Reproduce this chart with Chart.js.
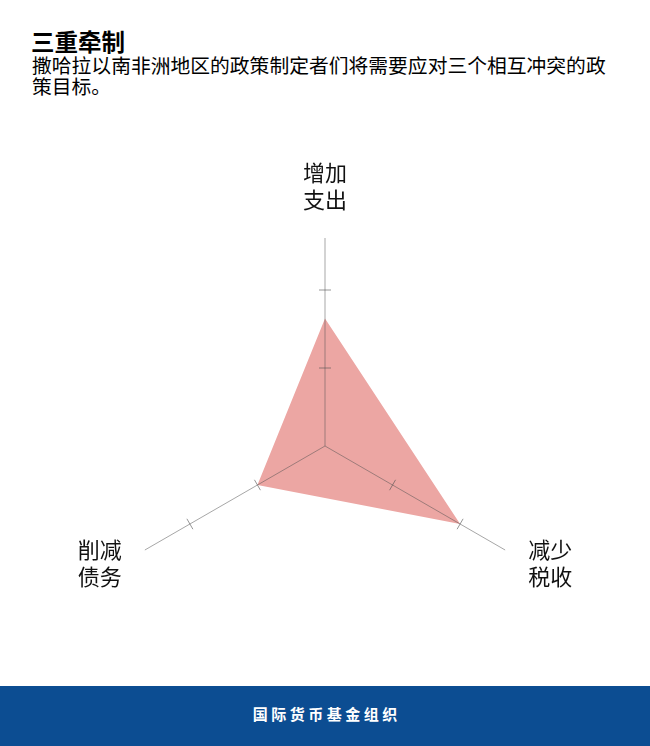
<!DOCTYPE html>
<html>
<head>
<meta charset="utf-8">
<script src="https://cdn.jsdelivr.net/npm/chart.js@4"></script>
<style>
  html, body { margin: 0; padding: 0; background: #ffffff; }
  body { width: 650px; height: 746px; position: relative; overflow: hidden;
         font-family: "Noto Sans CJK SC", "Noto Sans", sans-serif; }
  #title { position: absolute; left: 31px; top: 30px; font-size: 23.5px; line-height: 23px;
           font-weight: bold; color: #000; white-space: nowrap; }
  #subtitle { position: absolute; left: 32px; top: 54px; width: 585px; font-size: 19.8px;
              line-height: 21px; color: #000; }
  #chart { position: absolute; left: 0; top: 0; }
  #footer { position: absolute; left: 0; top: 686px; width: 650px; height: 60px; background: #0c4d92;
            color: #fff; font-weight: bold; font-size: 15px; letter-spacing: 3.5px;
            text-align: center; line-height: 56px; padding-left: 3.5px; box-sizing: border-box; }
</style>
</head>
<body>
<div id="title">三重牵制</div>
<div id="subtitle">撒哈拉以南非洲地区的政策制定者们将需要应对三个相互冲突的政策目标。</div>
<canvas id="chart" width="650" height="746"></canvas>
<div id="footer">国际货币基金组织</div>
<script>
// ---- data ----
const categories = [["增加", "支出"], ["减少", "税收"], ["削减", "债务"]];
const values = [4.9, 6, 3];
const tickValues = [3, 6];
const axisMax = 8;
const labelValue = 10;

const tickMarkPlugin = {
  id: 'tickMarks',
  afterDraw(chart) {
    const scale = chart.scales.r;
    const ctx = chart.ctx;
    ctx.save();
    ctx.strokeStyle = 'rgba(80,80,80,0.6)';
    ctx.lineWidth = 1;
    for (let i = 0; i < categories.length; i++) {
      const a = scale.getIndexAngle(i) - Math.PI / 2;
      const px = -Math.sin(a), py = Math.cos(a);
      for (const v of tickValues) {
        const p = scale.getPointPositionForValue(i, v);
        ctx.beginPath();
        ctx.moveTo(p.x - px * 6, p.y - py * 6);
        ctx.lineTo(p.x + px * 6, p.y + py * 6);
        ctx.stroke();
      }
    }
    // axis labels
    ctx.fillStyle = '#111';
    ctx.font = '22px "Noto Sans CJK SC", sans-serif';
    ctx.textAlign = 'center';
    ctx.textBaseline = 'middle';
    const lh = 27;
    for (let i = 0; i < categories.length; i++) {
      const p = scale.getPointPositionForValue(i, labelValue);
      let cy = p.y;
      if (p.y > scale.yCenter + 1) cy -= 13;
      const lines = categories[i];
      const start = cy - (lines.length - 1) * lh / 2;
      lines.forEach((t, k) => ctx.fillText(t, p.x, start + k * lh));
    }
    ctx.restore();
  }
};

new Chart(document.getElementById('chart'), {
  type: 'radar',
  data: {
    labels: categories.map(c => c.join('')),
    datasets: [{
      data: values,
      backgroundColor: 'rgb(236,166,163)',
      borderWidth: 0,
      pointRadius: 0,
      pointHoverRadius: 0,
      fill: true
    }]
  },
  options: {
    responsive: false,
    animation: false,
    events: [],
    layout: { padding: { left: 117, right: 117, top: 238, bottom: 92 } },
    plugins: { legend: { display: false }, tooltip: { enabled: false } },
    scales: {
      r: {
        min: 0,
        max: axisMax,
        ticks: { display: false, stepSize: 3 },
        grid: { display: false, z: 1 },
        angleLines: { display: true, color: 'rgba(80,80,80,0.5)', lineWidth: 1 },
        pointLabels: { display: false }
      }
    }
  },
  plugins: [tickMarkPlugin]
});
</script>
</body>
</html>
